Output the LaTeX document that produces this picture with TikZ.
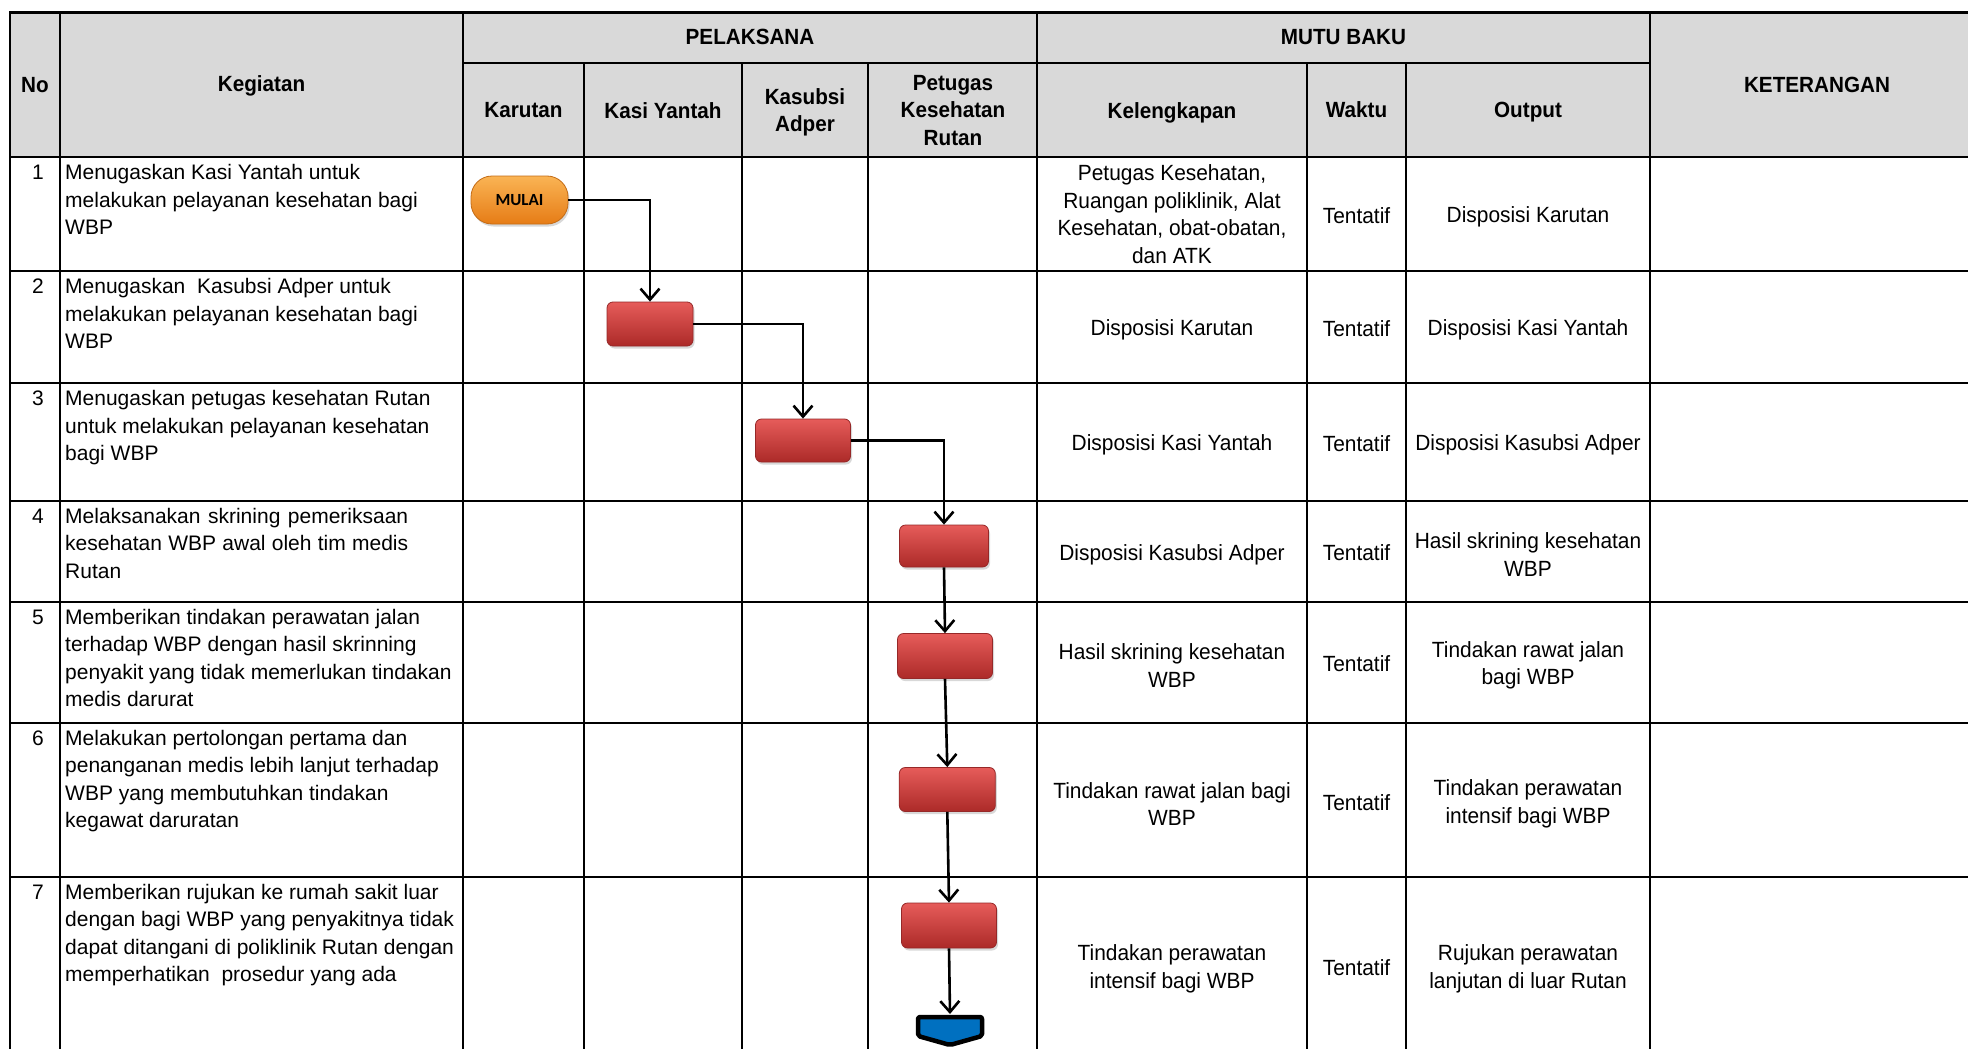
\documentclass[tikz,border=0pt]{standalone}
\usepackage{fontspec}
\setmainfont{Liberation Sans}
\newfontfamily\narrowsans[FakeStretch=0.95]{Liberation Sans}
\newfontfamily\narrowbold[FakeStretch=0.94]{Liberation Sans Bold}
\newfontfamily\calib{Carlito}
\usetikzlibrary{arrows.meta,shadows}
\definecolor{hdrgray}{RGB}{217,217,217}
\definecolor{boxtop}{RGB}{230,92,90}
\definecolor{boxbot}{RGB}{172,42,40}
\definecolor{boxline}{RGB}{150,40,40}
\definecolor{orgtop}{RGB}{250,180,84}
\definecolor{orgbot}{RGB}{230,124,22}
\definecolor{orgline}{RGB}{196,108,22}
\definecolor{endblue}{RGB}{0,112,192}
\newcommand\kegfont{\fontsize{21}{27.5}\selectfont}
\newcommand\cellfont{\narrowsans\fontsize{22}{27.5}\selectfont}
\newcommand\hdrfont{\narrowbold\fontsize{22}{27.5}\selectfont}
\newcommand\kegtext[1]{\parbox[t]{395pt}{\raggedright #1}}
\tikzset{
  gridline/.style={line width=2.2pt, line cap=rect},
  hdr/.style={align=center, inner sep=0pt, font=\hdrfont},
  cell/.style={align=center, inner sep=0pt, font=\cellfont, yshift=-3pt},
  keg/.style={anchor=base west, inner sep=0pt, font=\kegfont},
  num/.style={anchor=base, inner sep=0pt, font=\kegfont},
  procbox/.style={rectangle, rounded corners=6pt, top color=boxtop, bottom color=boxbot,
    draw=boxline, line width=0.8pt, inner sep=0pt,
    drop shadow={opacity=0.3, shadow xshift=1.5pt, shadow yshift=-2.5pt}},
  startbox/.style={rectangle, rounded corners=21pt, top color=orgtop, bottom color=orgbot,
    draw=orgline, line width=0.8pt, inner sep=0pt, minimum width=97pt, minimum height=48pt,
    font=\calib\bfseries\fontsize{17}{20}\selectfont,
    drop shadow={opacity=0.3, shadow xshift=1.5pt, shadow yshift=-2.5pt}},
  conn/.style={line width=2.6pt, -{Straight Barb[length=11pt,width=19pt]}}
}
\begin{document}
\begin{tikzpicture}[x=1pt,y=-1pt]
\useasboundingbox (0,0) rectangle (1968,1049);
\fill[white] (0,0) rectangle (1968,1049);
\begin{scope}
\clip (0,0) rectangle (1968,1049);
\fill[hdrgray] (10,12.5) rectangle (1984,157);
\foreach \y in {12.5,157,271,383,501,602,723,877,1055}
  \draw[gridline] (10,\y) -- (1984,\y);
\draw[gridline] (463,63) -- (1650,63);
\foreach \x in {10,60,463,1037,1650,1984}
  \draw[gridline] (\x,12.5) -- (\x,1055);
\foreach \x in {584,742,868,1307,1406}
  \draw[gridline] (\x,63) -- (\x,1055);
\end{scope}

% header
\node[hdr] (hNo) at (35,85) {No};
\node[hdr] (hKeg) at (261.5,86) {Kegiatan};
\node[hdr] (hPel) at (750,37) {PELAKSANA};
\node[hdr] (hMutu) at (1343.5,37) {MUTU BAKU};
\node[hdr] (hKet) at (1817,85) {KETERANGAN};
\node[hdr] (hKar) at (523.5,110) {Karutan};
\node[hdr] (hKasi) at (663,111) {Kasi Yantah};
\node[hdr] (hKasub) at (805,112.5) {Kasubsi\\Adper};
\node[hdr] (hPet) at (953,110.5) {Petugas\\Kesehatan\\Rutan};
\node[hdr] (hKel) at (1172,112.5) {Kelengkapan};
\node[hdr] (hWak) at (1356.5,110) {Waktu};
\node[hdr] (hOut) at (1528,112.5) {Output};

% numbers
\node[num] (n1) at (38,179.5) {1};
\node[num] (n2) at (38,293.5) {2};
\node[num] (n3) at (38,405.5) {3};
\node[num] (n4) at (38,523) {4};
\node[num] (n5) at (38,624) {5};
\node[num] (n6) at (38,745) {6};
\node[num] (n7) at (38,899) {7};

% kegiatan
\node[keg] (k1) at (65,179.5) {\kegtext{Menugaskan Kasi Yantah untuk\\melakukan pelayanan kesehatan bagi\\WBP}};
\node[keg] (k2) at (65,293.5) {\kegtext{Menugaskan\ \ Kasubsi Adper untuk\\melakukan pelayanan kesehatan bagi\\WBP}};
\node[keg] (k3) at (65,405.5) {\kegtext{Menugaskan petugas kesehatan Rutan\\untuk melakukan pelayanan kesehatan\\bagi WBP}};
\node[keg] (k4) at (65,523) {\kegtext{\makebox[343pt][s]{Melaksanakan skrining pemeriksaan}\\\makebox[343pt][s]{kesehatan WBP awal oleh tim medis}\\Rutan}};
\node[keg] (k5) at (65,624) {\kegtext{Memberikan tindakan perawatan jalan\\terhadap WBP dengan hasil skrinning\\penyakit yang tidak memerlukan tindakan\\medis darurat}};
\node[keg] (k6) at (65,745) {\kegtext{Melakukan pertolongan pertama dan\\penanganan medis lebih lanjut terhadap\\WBP yang membutuhkan tindakan\\kegawat daruratan}};
\node[keg] (k7) at (65,899) {\kegtext{Memberikan rujukan ke rumah sakit luar\\dengan bagi WBP yang penyakitnya tidak\\dapat ditangani di poliklinik Rutan dengan\\memperhatikan\ \ prosedur yang ada}};

% kelengkapan
\node[cell, yshift=3pt] (l1) at (1172,214) {Petugas Kesehatan,\\Ruangan poliklinik, Alat\\Kesehatan, obat-obatan,\\dan ATK};
\node[cell] (l2) at (1172,327) {Disposisi Karutan};
\node[cell] (l3) at (1172,442) {Disposisi Kasi Yantah};
\node[cell] (l4) at (1172,551.5) {Disposisi Kasubsi Adper};
\node[cell] (l5) at (1172,662.5) {Hasil skrining kesehatan\\WBP};
\node[cell] (l6) at (1172,801) {Tindakan rawat jalan bagi\\WBP};
\node[cell] (l7) at (1172,966) {Tindakan perawatan\\intensif bagi WBP};

% waktu
\node[cell, yshift=1.5pt] (w1) at (1356.5,214) {Tentatif};
\node[cell, yshift=1.5pt] (w2) at (1356.5,327) {Tentatif};
\node[cell, yshift=1.5pt] (w3) at (1356.5,442) {Tentatif};
\node[cell, yshift=1.5pt] (w4) at (1356.5,551.5) {Tentatif};
\node[cell, yshift=1.5pt] (w5) at (1356.5,662.5) {Tentatif};
\node[cell, yshift=1.5pt] (w6) at (1356.5,801) {Tentatif};
\node[cell, yshift=1.5pt] (w7) at (1356.5,966) {Tentatif};

% output
\node[cell] (o1) at (1528,214) {Disposisi Karutan};
\node[cell] (o2) at (1528,327) {Disposisi Kasi Yantah};
\node[cell] (o3) at (1528,442) {Disposisi Kasubsi Adper};
\node[cell] (o4) at (1528,551.5) {Hasil skrining kesehatan\\WBP};
\node[cell] (o5) at (1528,662.5) {Tindakan rawat jalan\\bagi WBP};
\node[cell] (o6) at (1528,801) {Tindakan perawatan\\intensif bagi WBP};
\node[cell] (o7) at (1528,966) {Rujukan perawatan\\lanjutan di luar Rutan};

% flow shapes
\node[startbox] (mulai) at (519.5,200) {MULAI};
\node[procbox, minimum width=86pt, minimum height=44pt] (b1) at (650,324) {};
\node[procbox, minimum width=95pt, minimum height=43pt] (b2) at (803,440.5) {};
\node[procbox, minimum width=89pt, minimum height=42pt] (b3) at (944,546) {};
\node[procbox, minimum width=95pt, minimum height=45pt] (b4) at (945,656) {};
\node[procbox, minimum width=96pt, minimum height=44pt] (b5) at (947.3,789.5) {};
\node[procbox, minimum width=95pt, minimum height=45pt] (b6) at (949,925.5) {};
\coordinate (endc) at (950,1014);
\draw[line width=4.5pt, fill=endblue, rounded corners=2pt, line join=round]
  (918,1017) -- (982,1017) -- (982,1036) -- (950,1045) -- (918,1036) -- cycle;

% connectors
\draw[conn] (mulai.east) -| (b1.north);
\draw[conn] (b1.east) -| (b2.north);
\draw[conn] (b2.east) -| (b3.north);
\draw[conn] (b3.south) -- (b4.north);
\draw[conn] (b4.south) -- (b5.north);
\draw[conn] (b5.south) -- (b6.north);
\draw[conn] (b6.south) -- (endc);
\end{tikzpicture}
\end{document}
